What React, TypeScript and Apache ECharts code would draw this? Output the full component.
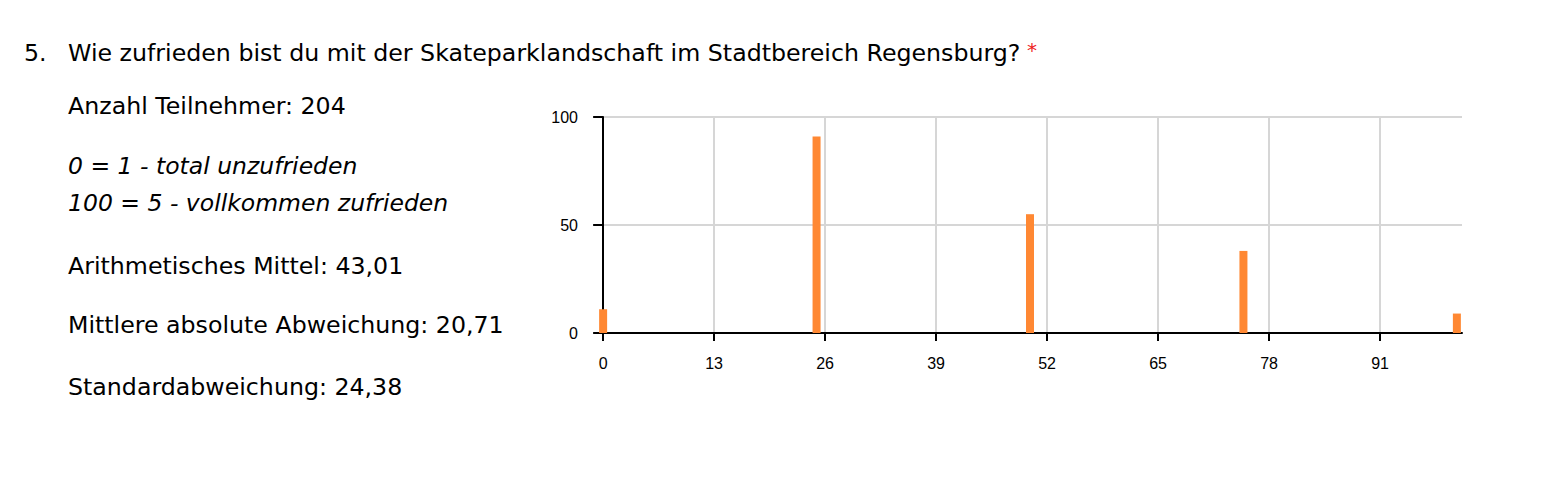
import React, { useEffect, useRef } from "react";
import * as echarts from "echarts";

// ---- data ----
const scoreValues: number[] = [0, 25, 50, 75, 100];
const counts: number[] = [11, 91, 55, 38, 9];
const xTickValues: number[] = [0, 13, 26, 39, 52, 65, 78, 91];

const questionNumber = "5.";
const questionText = "Wie zufrieden bist du mit der Skateparklandschaft im Stadtbereich Regensburg?";
const participants = "Anzahl Teilnehmer: 204";
const scaleLow = "0 = 1 - total unzufrieden";
const scaleHigh = "100 = 5 - vollkommen zufrieden";
const statMean = "Arithmetisches Mittel: 43,01";
const statMad = "Mittlere absolute Abweichung: 20,71";
const statSd = "Standardabweichung: 24,38";

const BODY_FONT = '23.7px "DejaVu Sans"';
const ITALIC_FONT = 'italic 23.5px "DejaVu Sans"';
const AXIS_FONT = "Liberation Sans";

export default function App() {
  const ref = useRef<HTMLDivElement>(null);

  useEffect(() => {
    if (!ref.current) return;
    const chart = echarts.init(ref.current, undefined, { renderer: "svg" });

    const textEl = (text: string, x: number, y: number, font: string) => ({
      type: "text",
      x,
      y,
      style: {
        text,
        font,
        fill: "#000",
        verticalAlign: "middle",
        align: "left",
      },
    });

    chart.setOption({
      animation: false,
      backgroundColor: "#fff",
      grid: { left: 598, right: 88, top: 117, bottom: 147, containLabel: false },
      xAxis: {
        type: "value",
        min: -0.6,
        max: 100.6,
        axisLine: { show: true, onZero: false, lineStyle: { color: "#000", width: 2 } },
        axisTick: {
          show: true,
          customValues: xTickValues,
          length: 8,
          lineStyle: { color: "#000", width: 2 },
        },
        axisLabel: {
          customValues: xTickValues,
          margin: 22,
          color: "#000",
          fontFamily: AXIS_FONT,
          fontSize: 16,
        },
        splitLine: { show: true, lineStyle: { color: "#d6d6d6", width: 2 } },
      },
      yAxis: {
        type: "value",
        min: 0,
        max: 100,
        interval: 50,
        axisLine: { show: true, lineStyle: { color: "#000", width: 2 } },
        axisTick: { show: true, length: 10, lineStyle: { color: "#000", width: 2 } },
        axisLabel: {
          margin: 20,
          color: "#000",
          fontFamily: AXIS_FONT,
          fontSize: 16,
        },
        splitLine: { show: true, lineStyle: { color: "#d6d6d6", width: 2 } },
      },
      series: [
        {
          type: "bar",
          data: scoreValues.map((s, i) => [s, counts[i]]),
          barWidth: 8,
          clip: false,
          itemStyle: { color: "#ff8833" },
          z: 3,
        },
      ],
      graphic: [
        textEl(questionNumber, 24, 53, BODY_FONT),
        {
          type: "text",
          x: 68,
          y: 53,
          style: {
            text: "{t|" + questionText + "}  {s|*}",
            verticalAlign: "middle",
            align: "left",
            rich: {
              t: { font: BODY_FONT, fill: "#000" },
              s: { font: '20px "DejaVu Sans"', fill: "#ee2222", verticalAlign: "top", padding: [0, 0, 6, 0] },
            },
          },
        },
        textEl(participants, 68, 106, BODY_FONT),
        textEl(scaleLow, 68, 166, ITALIC_FONT),
        textEl(scaleHigh, 68, 203, ITALIC_FONT),
        textEl(statMean, 68, 265.5, BODY_FONT),
        textEl(statMad, 68, 324.5, BODY_FONT),
        textEl(statSd, 68, 387, BODY_FONT),
      ],
    });

    return () => chart.dispose();
  }, []);

  return (
    <div
      ref={ref}
      style={{ position: "fixed", left: 0, top: 0, width: 1550, height: 480 }}
    />
  );
}
